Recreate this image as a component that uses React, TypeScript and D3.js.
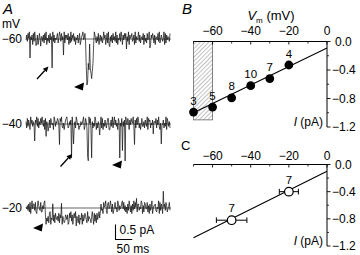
import React from 'react';
import * as d3 from 'd3';

// ---------- Panel B data ----------
const voltagesB = [-70, -60, -50, -40, -30, -20];
const currentsB = [-0.99, -0.92, -0.79, -0.62, -0.52, -0.33];
const countsB = ['3', '5', '8', '10', '7', '4'];
const fitB: [number, number][] = [[-70, -1.0], [0, -0.09]];
const shadedV = [-70, -60];
const shadedI = [0, -1.1];

// ---------- Panel C data ----------
const voltagesC = [-50, -20];
const currentsC = [-0.82, -0.4];
const errorsC = [8, 5];
const countsC = ['7', '7'];
const fitC: [number, number][] = [[-70, -1.08], [0, -0.1]];

// ---------- axes ----------
const vTicks = [-60, -40, -20, 0];
const vMinorTicks = [-70, -50, -30, -10];
const iTicks = [0, -0.4, -0.8, -1.2];
const iMinorTicks = [-0.2, -0.6, -1.0];

// ---------- Panel A data ----------
const holdingLabels = ['\u221260', '\u221240', '\u221220'];
const traceDuration = 430; // ms
const noiseUnit = 0.053; // pA per digit step
const traceNoise = [
  '473859264718395627148506637284915372846193725468259738461927574816293758361947258136794582613847526381974263815736249571482915637284639271548396174858263917568347192645937256481735284693175862716548392475359182746538',
  '628374195736417593826485953718264037286451973658741869325147895236471928362974518364579138627495814625397152637492815374258816473926947351862538163729548617486593172849725148396275391867254736658274931584472539186362',
  '546372815947738215964382264897153628915463728546382759164237647128593716859364271548173586429365426951837284695273418569317845962713584129736458948362517396261739485627735498162874482617359146673254918375195738624583',
];
// [start ms, end ms, amplitude pA]
const traceEvents: [number, number, number][][] = [
  [
    [12, 12, -0.5], [30, 30, -0.3], [78, 78, -0.78], [112, 112, -0.35],
    [150, 150, -0.2], [180, 200, -1.0], [182, 184, -0.35], [190, 190, 0.7],
    [196, 196, -0.4], [250, 250, -0.28], [300, 300, -0.2], [370, 370, -0.22],
  ],
  [
    [26, 26, -0.38], [60, 60, -0.28], [100, 100, -0.5], [136, 136, -0.95],
    [142, 142, -0.85], [160, 160, -0.25], [184, 186, -1.2], [196, 196, -1.1],
    [220, 220, -0.5], [250, 250, -0.28], [280, 280, -1.0], [288, 288, -0.7],
    [296, 296, -1.1], [324, 324, -0.5], [350, 350, -0.32], [380, 380, -0.25],
    [404, 404, -0.85],
  ],
  [
    [58, 220, -0.36], [80, 80, 0.42], [106, 106, 0.28], [150, 150, -0.16],
    [270, 270, 0.2], [330, 330, 0.24], [410, 410, 0.32],
  ],
];
const scaleBarCurrent = 0.5; // pA
const scaleBarTime = 50; // ms

const FONT = "'Liberation Sans', Arial, Helvetica, sans-serif";

function Arrow({ x1, y1, x2, y2 }: { x1: number; y1: number; x2: number; y2: number }) {
  const a = Math.atan2(y2 - y1, x2 - x1);
  const L = 5.5, Wd = 2.6;
  const bx = x2 - L * Math.cos(a), by = y2 - L * Math.sin(a);
  const p1 = [bx + Wd * Math.sin(a), by - Wd * Math.cos(a)];
  const p2 = [bx - Wd * Math.sin(a), by + Wd * Math.cos(a)];
  return (
    <g>
      <line x1={x1} y1={y1} x2={bx} y2={by} stroke="#000" strokeWidth={1.3} />
      <polygon points={`${x2},${y2} ${p1[0]},${p1[1]} ${p2[0]},${p2[1]}`} fill="#000" />
    </g>
  );
}

function Head({ x, y }: { x: number; y: number }) {
  return <polygon points={`${x},${y} ${x + 10},${y - 4.6} ${x + 8.8},${y + 3.4}`} fill="#000" />;
}

export default function App() {
  const xV = d3.scaleLinear().domain([-70, 0]).range([193.5, 327]);
  const yB = d3.scaleLinear().domain([0, -1.2]).range([41.5, 127]);
  const yC = d3.scaleLinear().domain([0, -1.2]).range([164.5, 246]);

  const xT = d3.scaleLinear().domain([0, traceDuration]).range([26, 170]);
  const bases = [39, 124, 208];

  const tracePath = (k: number) => {
    const noise = traceNoise[k];
    const n = noise.length;
    const dt = traceDuration / (n - 1);
    const yI = d3.scaleLinear().domain([0, -1]).range([bases[k], bases[k] + 30]);
    const pts: [number, number][] = d3.range(n).map((i) => {
      const t = i * dt;
      let v = (+noise[i] - 4.5) * noiseUnit;
      for (const [a, b, amp] of traceEvents[k]) {
        if (t >= a - dt / 2 && t < b + dt / 2) v += amp;
      }
      return [xT(t), yI(v)];
    });
    return d3.line()(pts) || '';
  };

  const line = d3.line();

  const axes = (yS: d3.ScaleLinear<number, number>, labelY: number) => {
    const y0 = yS(0);
    return (
      <g>
        <line x1={xV(-70)} y1={y0} x2={xV(0)} y2={y0} stroke="#000" strokeWidth={1} />
        {vTicks.map((v) => (
          <g key={'v' + v}>
            <line x1={xV(v)} x2={xV(v)} y1={y0} y2={y0 + 3} stroke="#000" strokeWidth={0.9} />
            <text x={xV(v)} y={labelY} textAnchor="middle" fontSize={12} fontFamily={FONT}>
              {v === 0 ? '0' : '\u2212' + Math.abs(v)}
            </text>
          </g>
        ))}
        {vMinorTicks.map((v) => (
          <line key={'vm' + v} x1={xV(v)} x2={xV(v)} y1={y0} y2={y0 + 2} stroke="#000" strokeWidth={0.8} />
        ))}
        <line x1={xV(0)} y1={y0} x2={xV(0)} y2={yS(-1.2)} stroke="#000" strokeWidth={1} />
        {iTicks.map((i) => (
          <g key={'i' + i}>
            <line x1={xV(0)} x2={xV(0) + 3.5} y1={yS(i)} y2={yS(i)} stroke="#000" strokeWidth={0.9} />
            <text x={i === 0 ? 335 : 332} y={yS(i) + 4.2} fontSize={12} fontFamily={FONT}>
              {i === 0 ? '0.0' : '\u2212' + Math.abs(i).toFixed(1)}
            </text>
          </g>
        ))}
        {iMinorTicks.map((i) => (
          <line key={'im' + i} x1={xV(0)} x2={xV(0) + 2} y1={yS(i)} y2={yS(i)} stroke="#000" strokeWidth={0.8} />
        ))}
        <text x={323} y={yS(-1.2) - 1} textAnchor="end" fontSize={12} fontFamily={FONT}>
          <tspan fontStyle="italic">I</tspan> (pA)
        </text>
      </g>
    );
  };

  const sbX = 115.5, sbY = 239.5;

  return (
    <svg width={360} height={255} style={{ position: 'absolute', left: 0, top: 0, background: '#fff' }}>
      <defs>
        <pattern id="hatch" patternUnits="userSpaceOnUse" width={3} height={3} patternTransform="rotate(45)">
          <line x1={0} y1={0} x2={0} y2={3} stroke="#666" strokeWidth={0.8} />
        </pattern>
      </defs>

      {/* Panel A */}
      <text x={3} y={14} fontSize={15} fontStyle="italic" fontFamily={FONT}>A</text>
      <text x={2} y={28} fontSize={12} fontFamily={FONT}>mV</text>
      {bases.map((b, k) => (
        <g key={'tr' + k}>
          <text x={22} y={b + 4.3} textAnchor="end" fontSize={12} fontFamily={FONT}>{holdingLabels[k]}</text>
          <line x1={26} x2={171} y1={b} y2={b} stroke="#666" strokeWidth={1} />
          <path d={tracePath(k)} fill="none" stroke="#111" strokeWidth={0.8} strokeOpacity={0.9} />
        </g>
      ))}
      <Arrow x1={37} y1={79} x2={48.5} y2={66.5} />
      <Arrow x1={60.5} y1={166.5} x2={72} y2={154} />
      <Head x={74} y={87} />
      <Head x={112} y={165} />
      <Head x={33} y={228} />
      {/* scale bar */}
      <path
        d={`M${sbX},${sbY - 30 * scaleBarCurrent}V${sbY}H${sbX + (xT(scaleBarTime) - xT(0))}`}
        fill="none" stroke="#000" strokeWidth={1.1}
      />
      <text x={119.5} y={233.5} fontSize={12} fontFamily={FONT}>0.5 pA</text>
      <text x={116.5} y={253} fontSize={12} fontFamily={FONT}>50 ms</text>

      {/* Panel B */}
      <text x={182} y={14} fontSize={15} fontStyle="italic" fontFamily={FONT}>B</text>
      <text x={271} y={20} textAnchor="middle" fontSize={13} fontFamily={FONT}>
        <tspan fontStyle="italic">V</tspan>
        <tspan fontSize={8} dy={3}>m</tspan>
        <tspan dy={-3}> (mV)</tspan>
      </text>
      <rect
        x={xV(shadedV[0])} y={yB(shadedI[0])}
        width={xV(shadedV[1]) - xV(shadedV[0])} height={yB(shadedI[1]) - yB(shadedI[0])}
        fill="url(#hatch)" stroke="#666" strokeWidth={0.8}
      />
      {axes(yB, 34.5)}
      <path d={line(fitB.map(([v, i]) => [xV(v), yB(i)] as [number, number])) || ''} fill="none" stroke="#000" strokeWidth={1.1} />
      {voltagesB.map((v, k) => (
        <g key={'b' + k}>
          <circle cx={xV(v)} cy={yB(currentsB[k])} r={4.4} fill="#000" />
          <text x={xV(v)} y={yB(currentsB[k]) - 7.5} textAnchor="middle" fontSize={11.5} fontFamily={FONT}>{countsB[k]}</text>
        </g>
      ))}

      {/* Panel C */}
      <text x={181} y={150} fontSize={13} fontFamily={FONT}>C</text>
      {axes(yC, 160)}
      <path d={line(fitC.map(([v, i]) => [xV(v), yC(i)] as [number, number])) || ''} fill="none" stroke="#000" strokeWidth={1.1} />
      {voltagesC.map((v, k) => {
        const cx = xV(v), cy = yC(currentsC[k]);
        const xl = xV(v - errorsC[k]), xr = xV(v + errorsC[k]);
        return (
          <g key={'c' + k}>
            <line x1={xl} x2={xr} y1={cy} y2={cy} stroke="#000" strokeWidth={1} />
            <line x1={xl} x2={xl} y1={cy - 2.8} y2={cy + 2.8} stroke="#000" strokeWidth={1} />
            <line x1={xr} x2={xr} y1={cy - 2.8} y2={cy + 2.8} stroke="#000" strokeWidth={1} />
            <circle cx={cx} cy={cy} r={4.3} fill="#fff" stroke="#000" strokeWidth={1.2} />
            <text x={cx} y={cy - 8} textAnchor="middle" fontSize={11.5} fontFamily={FONT}>{countsC[k]}</text>
          </g>
        );
      })}
    </svg>
  );
}
